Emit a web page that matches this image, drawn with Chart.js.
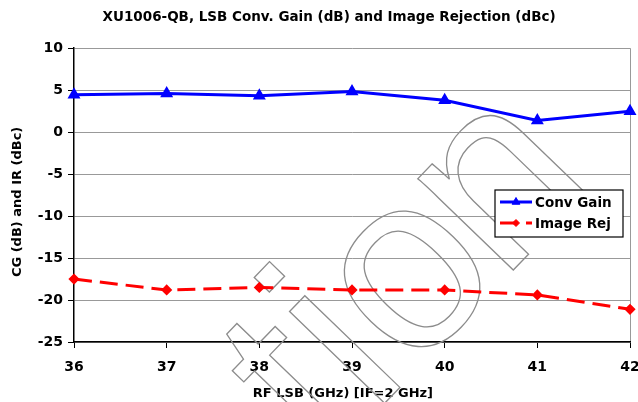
<!DOCTYPE html>
<html>
<head>
<meta charset="utf-8">
<script src="https://cdn.jsdelivr.net/npm/chart.js@4.4.1/dist/chart.umd.min.js"></script>
<style>
  html, body { margin: 0; padding: 0; background: #fff; }
  #wrap { width: 638px; height: 402px; }
</style>
</head>
<body>
<div id="wrap"><canvas id="chart"></canvas></div>
<script>
// data
const freqs = ['36', '37', '38', '39', '40', '41', '42'];
const convGain = [4.45, 4.6, 4.35, 4.85, 3.8, 1.4, 2.5];
const imageRej = [-17.5, -18.8, -18.5, -18.8, -18.8, -19.4, -21.1];
const yTicks = [10, 5, 0, -5, -10, -15, -20, -25];

const FONT = '"DejaVu Sans"';

// watermark + legend box drawn by hand (legend sits inside the plot)
const extras = {
  id: 'extras',
  beforeDatasetsDraw(chart) {
    const ctx = chart.ctx;
    const th = -46 * Math.PI / 180;
    ctx.save();
    ctx.font = '250px "Liberation Sans"';
    const mo = ctx.measureText('o');
    const wHead = ctx.measureText('Informati').width;
    const xo = wHead + mo.width / 2;
    const xh = mo.actualBoundingBoxAscent;
    // put the centre of the "o" at (411, 278)
    const px = 411, py = 278;
    const lx = px * Math.cos(th) + py * Math.sin(th);
    const ly = -px * Math.sin(th) + py * Math.cos(th);
    const x0 = lx - xo, y0 = ly + xh / 2;
    ctx.rotate(th);
    ctx.strokeStyle = '#8c8c8c';
    ctx.lineWidth = 1.3;
    ctx.textBaseline = 'alphabetic';
    ctx.strokeText('Informatio', x0, y0);
    // the last letter sits a bit tighter in the reference
    ctx.strokeText('n', x0 + wHead + mo.width - 10, y0);
    ctx.restore();
  },
  afterDatasetsDraw(chart) {
    const ctx = chart.ctx;
    const bx = 495, by = 190, bw = 128, bh = 47;
    ctx.save();
    ctx.fillStyle = '#fff';
    ctx.fillRect(bx, by, bw, bh);
    ctx.strokeStyle = '#000';
    ctx.lineWidth = 1.2;
    ctx.strokeRect(bx, by, bw, bh);
    chart.data.datasets.forEach((ds, i) => {
      const y = by + 12 + i * 21;
      ctx.strokeStyle = ds.borderColor;
      ctx.lineWidth = 3;
      ctx.setLineDash(ds.borderDash || []);
      ctx.beginPath();
      ctx.moveTo(500, y);
      ctx.lineTo(532, y);
      ctx.stroke();
      ctx.setLineDash([]);
      ctx.fillStyle = ds.pointBackgroundColor;
      ctx.strokeStyle = ds.pointBorderColor;
      ctx.lineWidth = 1;
      Chart.helpers.drawPoint(ctx, { pointStyle: ds.pointStyle, radius: ds.pointRadius, rotation: 0, borderWidth: 1 }, 516, y);
      ctx.fillStyle = '#000';
      ctx.font = 'bold 13.5px ' + FONT;
      ctx.textBaseline = 'middle';
      ctx.fillText(ds.label, 535, y + 1);
    });
    ctx.restore();
  }
};

new Chart(document.getElementById('chart'), {
  type: 'line',
  data: {
    labels: freqs,
    datasets: [
      {
        label: 'Conv Gain',
        data: convGain,
        borderColor: '#0000ff',
        borderWidth: 3,
        pointStyle: 'triangle',
        pointRadius: 4.5,
        pointBackgroundColor: '#0000ff',
        pointBorderColor: '#0000ff',
        tension: 0
      },
      {
        label: 'Image Rej',
        data: imageRej,
        borderColor: '#ff0000',
        borderWidth: 3,
        borderDash: [18, 8],
        pointStyle: 'rectRot',
        pointRadius: 3.5,
        pointBackgroundColor: '#ff0000',
        pointBorderColor: '#ff0000',
        tension: 0
      }
    ]
  },
  options: {
    responsive: true,
    maintainAspectRatio: false,
    animation: false,
    devicePixelRatio: 1,
    layout: { padding: { left: 0, right: 8, top: 0, bottom: 0 } },
    plugins: {
      legend: { display: false },
      tooltip: { enabled: false },
      title: {
        display: true,
        // leading spaces nudge the centred title a little to the right, as in the reference
        text: '      XU1006-QB, LSB Conv. Gain (dB) and Image Rejection (dBc)',
        color: '#000',
        font: { family: FONT, size: 13.5, weight: 'bold' },
        padding: { top: 9, bottom: 23 }
      }
    },
    scales: {
      x: {
        type: 'category',
        offset: false,
        grid: {
          color: ctx => ctx.index === freqs.length - 1 ? '#999' : 'rgba(0,0,0,0)',
          tickColor: '#000',
          tickLength: 6,
          lineWidth: 1
        },
        border: { color: '#000', width: 1.5 },
        ticks: {
          color: '#000',
          font: { family: FONT, size: 14, weight: 'bold' },
          padding: 11,
          maxRotation: 0,
          autoSkip: false
        },
        title: {
          display: true,
          text: 'RF LSB (GHz) [IF=2 GHz]    ',
          color: '#000',
          font: { family: FONT, size: 13, weight: 'bold' },
          padding: { top: 0, bottom: 1 }
        },
        afterFit(scale) {
          scale.height = 60;
          scale.paddingLeft = 0;
          scale.paddingRight = 0;
        }
      },
      y: {
        min: Math.min(...yTicks),
        max: Math.max(...yTicks),
        ticks: {
          stepSize: 5,
          color: '#000',
          font: { family: FONT, size: 14, weight: 'bold' },
          padding: 5
        },
        grid: {
          color: '#999',
          tickColor: '#000',
          tickLength: 6,
          lineWidth: 1
        },
        border: { color: '#000', width: 1.5 },
        title: {
          display: true,
          text: 'CG (dB) and IR (dBc)   ',
          color: '#000',
          font: { family: FONT, size: 13, weight: 'bold' },
          padding: { top: 10, bottom: 0 }
        },
        afterFit(scale) {
          scale.width = 74;
        }
      }
    }
  },
  plugins: [extras]
});
</script>
</body>
</html>
